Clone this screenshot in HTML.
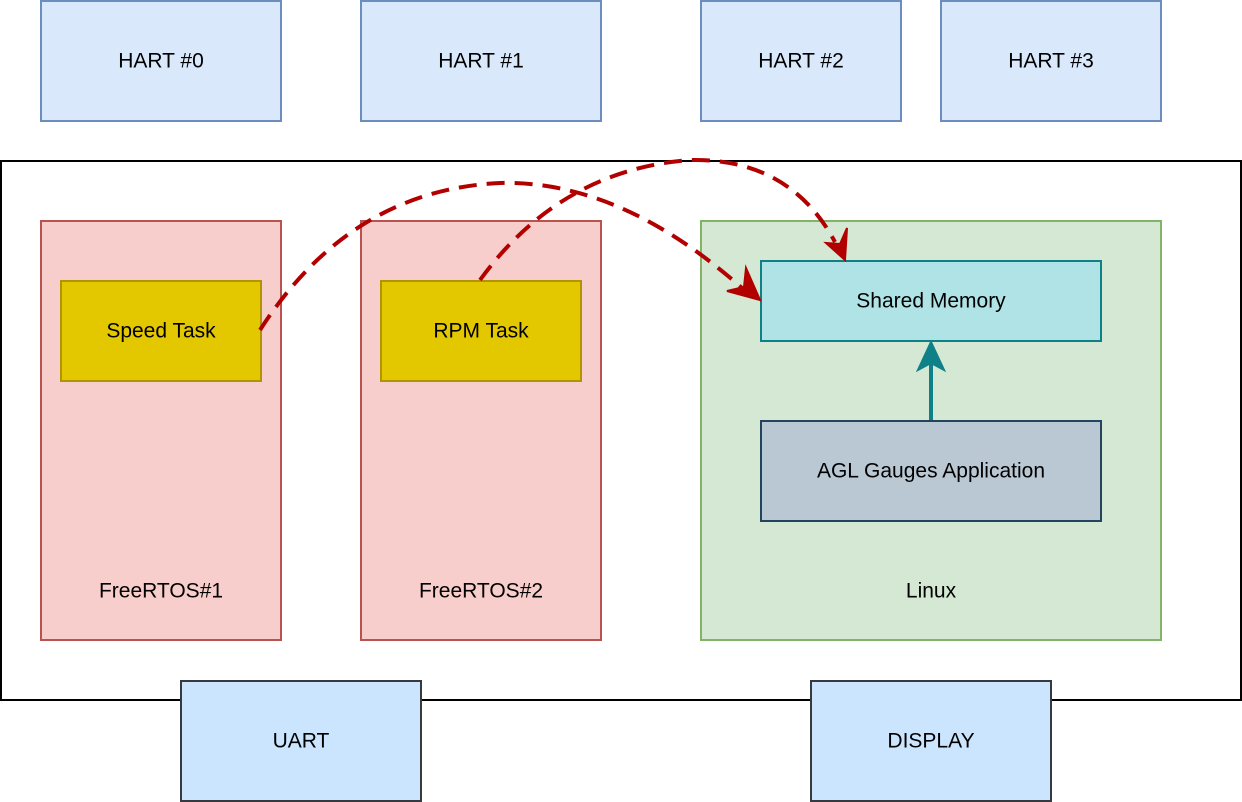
<!DOCTYPE html>
<html><head><style>body{margin:0;background:#fff}svg{display:block}text{font-family:"Liberation Sans",sans-serif;font-size:21px;text-anchor:middle;dominant-baseline:central;fill:#000}</style></head>
<body>
<svg width="1242" height="802" viewBox="0 0 1242 802">
<g stroke="#6c8ebf" stroke-width="2" fill="#dae8fc">
<rect x="41" y="1" width="240" height="120"/><rect x="361" y="1" width="240" height="120"/>
<rect x="701" y="1" width="200" height="120"/><rect x="941" y="1" width="220" height="120"/>
</g>
<text x="161" y="61">HART #0</text><text x="481" y="61">HART #1</text><text x="801" y="61">HART #2</text><text x="1051" y="61">HART #3</text>
<rect x="1" y="161" width="1240" height="539" fill="#fff" stroke="#000" stroke-width="2"/>
<g stroke="#b85450" stroke-width="2" fill="#f8cecc">
<rect x="41" y="221" width="240" height="419"/><rect x="361" y="221" width="240" height="419"/></g>
<rect x="701" y="221" width="460" height="419" fill="#d5e8d4" stroke="#82b366" stroke-width="2"/>
<g stroke="#b09500" stroke-width="2" fill="#e3c800">
<rect x="61" y="281" width="200" height="100"/><rect x="381" y="281" width="200" height="100"/></g>
<rect x="761" y="261" width="340" height="80" fill="#b0e3e6" stroke="#0e8088" stroke-width="2"/>
<rect x="761" y="421" width="340" height="100" fill="#bac8d3" stroke="#23445d" stroke-width="2"/>
<text x="161" y="331">Speed Task</text><text x="481" y="331">RPM Task</text>
<text x="931" y="301">Shared Memory</text><text x="931" y="471">AGL Gauges Application</text>
<text x="161" y="591">FreeRTOS#1</text><text x="481" y="591">FreeRTOS#2</text><text x="931" y="591">Linux</text>
<g stroke="#36393d" stroke-width="2" fill="#cce5ff">
<rect x="181" y="681" width="240" height="120"/><rect x="811" y="681" width="240" height="120"/></g>
<text x="301" y="741">UART</text><text x="931" y="741">DISPLAY</text>
<line x1="931" y1="420" x2="931" y2="362" stroke="#0e8088" stroke-width="4"/>
<path d="M931,342 L944,370 L931,363 L918,370Z" fill="#0e8088" stroke="#0e8088" stroke-width="2"/>
<g fill="none" stroke="#b20000" stroke-width="4" stroke-dasharray="18,10">
<path d="M260,330 Q350,190 500,183 Q620,180 742,288"/>
<path d="M480,280 Q560,170 690,160 Q790,158 835,242"/>
</g>
<path d="M760,300 L727,291 L744,287 L746,268Z" fill="#b20000" stroke="#b20000" stroke-width="2"/>
<path d="M845,260 L826,243 L840,244 L847,228Z" fill="#b20000" stroke="#b20000" stroke-width="2"/>
</svg>
</body></html>
